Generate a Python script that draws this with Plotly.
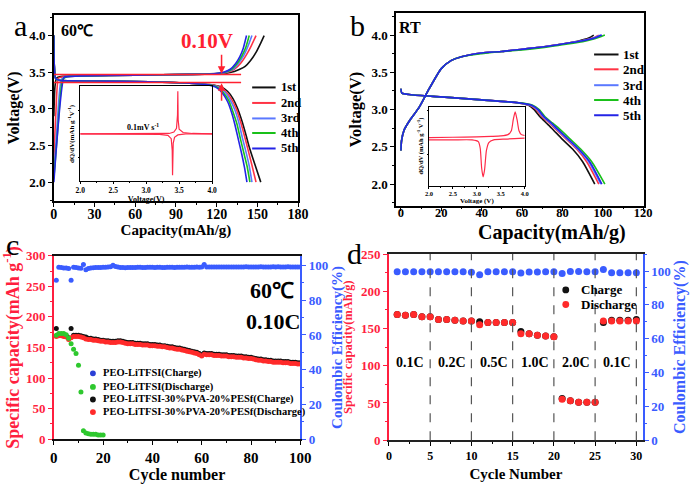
import plotly.graph_objects as go

W, H = 694, 485
SERIF = "Liberation Serif"
RED = "#ff1f3f"
BLUE = "#3a5cff"
GREEN = "#2ec82e"
INSET_RED = "#ff2a48"


def px(x):
    return x / W


def py(y):
    return 1 - y / H


# ---------------- panel a data (60 C charge/discharge) ----------------
a_labels = ["1st", "2nd", "3rd", "4th", "5th"]
a_colors = ["#111111", "#ff3344", "#5a78ff", "#19c019", "#2424e6"]
a_chg_cap = [
    [0, 0.8, 2, 5, 20, 60, 100, 120, 128, 133, 137, 141, 145, 149, 152, 155],
    [0, 1.5, 3.5, 8, 20, 60, 100, 120, 128, 133, 138, 142, 145.5, 149],
    [0, 2.5, 5.5, 9, 20, 60, 100, 120, 127, 132, 136, 140, 143, 146],
    [0, 3, 6.5, 10, 20, 60, 100, 119, 126, 131, 135, 138.5, 141.5, 144],
    [0, 7.5, 10, 20, 60, 100, 118, 125, 130, 134, 137, 139.5, 142],
]
a_chg_v = [
    [2.9, 3.3, 3.42, 3.44, 3.45, 3.46, 3.47, 3.48, 3.49, 3.51, 3.54, 3.58, 3.66, 3.77, 3.88, 4.0],
    [2.3, 2.95, 3.42, 3.44, 3.45, 3.46, 3.47, 3.48, 3.5, 3.54, 3.63, 3.74, 3.86, 4.0],
    [2.1, 2.8, 3.4, 3.44, 3.45, 3.46, 3.47, 3.48, 3.5, 3.54, 3.62, 3.73, 3.85, 4.0],
    [2.05, 2.75, 3.4, 3.44, 3.45, 3.46, 3.47, 3.48, 3.5, 3.54, 3.62, 3.72, 3.84, 4.0],
    [2.0, 3.43, 3.44, 3.45, 3.46, 3.47, 3.48, 3.5, 3.54, 3.62, 3.71, 3.82, 4.0],
]
a_dis_cap = [
    [0, 0.3, 1.2, 4, 30, 70, 100, 115, 123, 128, 132, 135.5, 138.5, 141.5, 144, 148, 152.5],
    [0, 0.3, 1.2, 4, 30, 70, 100, 114, 122, 127, 131, 134.5, 137.5, 140.5, 143, 146, 149],
    [0, 0.3, 1.2, 4, 30, 70, 100, 113, 121, 126, 130, 133.5, 136.5, 139, 141.5, 144, 146],
    [0, 0.3, 1.2, 4, 30, 70, 100, 112.5, 120, 125, 129, 132, 135, 137.5, 140, 142.5, 144.5],
    [0, 0.3, 1.2, 4, 30, 70, 100, 112, 119, 124, 128, 131, 133.5, 136, 138.5, 140.5, 142.3],
]
a_dis_v = [
    [4.0, 3.6, 3.42, 3.39, 3.38, 3.37, 3.35, 3.33, 3.3, 3.24, 3.14, 3.0, 2.84, 2.65, 2.48, 2.25, 2.0],
    [4.0, 3.6, 3.42, 3.39, 3.38, 3.37, 3.35, 3.33, 3.3, 3.23, 3.13, 3.0, 2.83, 2.63, 2.45, 2.23, 2.0],
    [4.0, 3.6, 3.42, 3.39, 3.38, 3.37, 3.35, 3.33, 3.3, 3.23, 3.12, 2.98, 2.8, 2.6, 2.42, 2.22, 2.0],
    [4.0, 3.6, 3.42, 3.39, 3.38, 3.37, 3.35, 3.33, 3.3, 3.22, 3.11, 2.96, 2.79, 2.59, 2.4, 2.21, 2.0],
    [4.0, 3.6, 3.42, 3.39, 3.38, 3.37, 3.35, 3.33, 3.3, 3.22, 3.1, 2.95, 2.78, 2.58, 2.38, 2.2, 2.0],
]
a_guide_v = [3.47, 3.36]
a_guide_cap_end = 138
a_arrow_cap = 123.6

# inset a: dQ/dV
ia_chg_v = [2.0, 3.0, 3.35, 3.42, 3.46, 3.475, 3.48, 3.485, 3.5, 3.56, 3.7, 4.0]
ia_chg_d = [0.0, 0.0, 0.01, 0.04, 0.12, 0.4, 0.9, 0.3, 0.1, 0.03, 0.01, 0.0]
ia_dis_v = [4.0, 3.6, 3.48, 3.43, 3.41, 3.405, 3.4, 3.395, 3.38, 3.33, 3.2, 2.0]
ia_dis_d = [0.0, 0.0, -0.02, -0.07, -0.2, -0.45, -0.87, -0.35, -0.1, -0.03, -0.01, 0.0]

# ---------------- panel b data (RT) ----------------
b_chg_cap = [
    [0, 0.3, 1.5, 4, 9, 14, 20, 25, 30, 40, 50, 60, 70, 80, 88, 93, 95.5],
    [0, 0.3, 1.5, 4, 9, 14, 20, 25, 30, 40, 50, 60, 70, 80, 89, 95, 98],
    [0, 0.3, 1.5, 4, 9, 14, 20, 25, 30, 40, 50, 60, 70, 80, 89, 95.5, 99],
    [0, 0.3, 1.5, 4, 9, 14, 20, 25, 30, 40, 50, 60, 70, 80, 90, 96, 101],
    [0, 0.3, 1.5, 4, 9, 14, 20, 25, 30, 40, 50, 60, 70, 80, 89.5, 96, 99.5],
]
b_chg_v = [
    [2.45, 2.58, 2.72, 2.84, 3.03, 3.28, 3.55, 3.66, 3.71, 3.76, 3.78, 3.81, 3.84, 3.88, 3.92, 3.96, 4.0],
    [2.45, 2.58, 2.72, 2.84, 3.03, 3.28, 3.55, 3.66, 3.71, 3.76, 3.78, 3.81, 3.84, 3.88, 3.92, 3.96, 4.0],
    [2.45, 2.58, 2.72, 2.84, 3.03, 3.28, 3.55, 3.66, 3.71, 3.76, 3.78, 3.81, 3.84, 3.88, 3.92, 3.96, 4.0],
    [2.45, 2.58, 2.72, 2.84, 3.03, 3.28, 3.55, 3.66, 3.71, 3.75, 3.78, 3.8, 3.83, 3.87, 3.91, 3.95, 4.0],
    [2.45, 2.58, 2.72, 2.84, 3.03, 3.28, 3.55, 3.66, 3.71, 3.76, 3.78, 3.81, 3.84, 3.88, 3.92, 3.96, 4.0],
]
b_dis_cap = [
    [0, 0.5, 5, 20, 40, 58, 63, 66, 69, 72, 75, 80, 85, 90, 96],
    [0, 0.5, 5, 20, 40, 58, 63.5, 67, 70, 73.5, 76.5, 82, 87, 92, 98],
    [0, 0.5, 5, 20, 40, 58, 64, 67.5, 70.5, 74, 77, 82.5, 87.5, 93, 99],
    [0, 0.5, 5, 20, 40, 59, 65, 68.5, 71.5, 75, 78.5, 84, 89, 94.5, 101],
    [0, 0.5, 5, 20, 40, 58.5, 64.5, 68, 71, 74.5, 77.5, 83, 88, 93.5, 99.5],
]
b_dis_v = [3.28, 3.22, 3.2, 3.17, 3.13, 3.09, 3.06, 3.0, 2.9, 2.82, 2.74, 2.6, 2.47, 2.3, 2.0]

# inset b: dQ/dV
ib_chg_v = [2.0, 2.5, 3.0, 3.3, 3.5, 3.65, 3.72, 3.76, 3.8, 3.84, 3.88, 3.93, 4.0]
ib_chg_d = [-0.11, -0.1, -0.09, -0.08, -0.07, -0.04, 0.05, 0.3, 0.48, 0.3, 0.05, -0.04, -0.06]
ib_dis_v = [4.0, 3.6, 3.35, 3.25, 3.2, 3.16, 3.13, 3.1, 3.07, 3.03, 2.9, 2.5, 2.0]
ib_dis_d = [-0.12, -0.14, -0.16, -0.22, -0.4, -0.85, -1.0, -0.8, -0.35, -0.2, -0.16, -0.16, -0.16]

# ---------------- panel c data (cycling) ----------------
c_cycles = list(range(1, 101))
c_charge = [181, 171, 171, 170, 169, 166, 181, 170, 170, 170,
            169, 168, 167, 165, 165, 164, 164, 163, 162, 162,
            161, 161, 160, 160, 160, 161, 161, 160, 159, 158,
            158, 158, 157, 157, 157, 156, 156, 156, 155, 155,
            155, 154, 154, 153, 153, 152, 151, 151, 150, 149,
            149, 148, 147, 146, 145, 144, 143, 142, 140, 138,
            141, 140, 140, 140, 139, 139, 139, 138, 138, 138,
            137, 137, 137, 136, 136, 136, 135, 135, 134, 134,
            133, 132, 131, 131, 130, 130, 129, 129, 128, 128,
            128, 128, 127, 127, 127, 126, 126, 126, 125, 125]
c_discharge = [168, 169, 169, 168, 167, 163, 166, 168, 168, 168,
               167, 166, 164, 163, 163, 162, 162, 161, 160, 160,
               159, 159, 158, 158, 158, 159, 159, 158, 157, 156,
               156, 156, 155, 155, 155, 154, 154, 154, 153, 153,
               153, 152, 152, 151, 151, 150, 149, 149, 148, 147,
               147, 146, 145, 144, 143, 142, 141, 140, 138, 136,
               139, 138, 138, 138, 137, 137, 137, 136, 136, 136,
               135, 135, 135, 134, 134, 134, 133, 133, 132, 132,
               131, 130, 129, 129, 128, 128, 127, 127, 126, 126,
               126, 126, 125, 125, 125, 124, 124, 124, 123, 123]
c_ce = [91.5, 99.0, 98.8, 98.6, 98.5, 98.3, 91.5, 99.0, 98.8, 98.6,
        98.4, 100.6, 97.6, 98.2, 98.5, 98.7, 98.8, 98.9, 98.9, 99.0,
        99.0, 99.1, 99.3, 100.2, 99.4, 99.1, 98.9, 98.8, 98.7, 98.8,
        98.9, 98.9, 98.9, 99.0, 99.0, 98.9, 98.9, 99.0, 99.0, 99.0,
        98.9, 99.0, 99.0, 98.9, 98.9, 99.0, 99.0, 99.0, 98.9, 99.0,
        99.0, 99.0, 99.0, 99.1, 99.0, 99.0, 99.0, 99.1, 99.0, 99.1,
        100.6, 99.2, 99.1, 99.1, 99.2, 99.2, 99.1, 99.1, 99.2, 99.2,
        99.2, 99.2, 99.1, 99.1, 99.2, 99.2, 99.2, 99.3, 99.2, 99.2,
        99.2, 99.2, 99.2, 99.3, 99.2, 99.2, 99.2, 99.2, 99.3, 99.2,
        99.3, 99.2, 99.2, 99.2, 99.3, 99.2, 99.2, 99.2, 99.2, 99.2]
c_peo_cycles = list(range(1, 21))
c_peo_discharge = [170, 173, 173, 173, 171, 165, 156, 147, 140, 121,
                   77, 14, 10, 9, 8, 8, 8, 7, 7, 7]
c_legend = ["PEO-LiTFSI(Charge)", "PEO-LiTFSI(Discharge)",
            "PEO-LiTFSI-30%PVA-20%PESf(Charge)", "PEO-LiTFSI-30%PVA-20%PESf(Discharge)"]
c_legend_colors = ["#2b3fd6", GREEN, "#111111", "#ff2a2a"]

# ---------------- panel d data (rate) ----------------
d_cycles = list(range(1, 31))
d_charge = [169, 168, 169, 166, 166, 162, 162, 161, 160, 160,
            159, 158, 158, 158, 158, 146, 143, 141, 140, 139,
            56, 53, 51, 51, 51, 158, 161, 161, 161, 162]
d_discharge = [169, 168, 169, 166, 166, 162, 162, 161, 160, 160,
               155, 158, 158, 158, 158, 143, 143, 141, 140, 139,
               55, 53, 51, 51, 51, 160, 160, 160, 160, 160]
d_ce = [99.5, 99.5, 99.5, 99.5, 99.5, 99.5, 99.5, 99.6, 99.5, 99.3,
        97.8, 99.5, 99.5, 99.5, 99.5, 98.8, 99.4, 99.4, 99.5, 99.5,
        98.6, 99.7, 99.7, 99.6, 99.6, 100.9, 99.0, 99.0, 99.0, 99.0]
d_boundaries = [5, 10, 15, 20, 25, 30]
d_rate_labels = ["0.1C", "0.2C", "0.5C", "1.0C", "2.0C", "0.1C"]
d_rate_x = [2.6, 7.7, 12.8, 17.7, 22.7, 27.7]
d_rate_y = 104

# ---------------- figure ----------------
fig = go.Figure()

for i in range(5):
    fig.add_trace(go.Scatter(x=a_chg_cap[i], y=a_chg_v[i], mode="lines",
                             line=dict(color=a_colors[i], width=1.6, shape="spline", smoothing=0.5),
                             xaxis="x", yaxis="y", showlegend=False, name=a_labels[i]))
    fig.add_trace(go.Scatter(x=a_dis_cap[i], y=a_dis_v[i], mode="lines",
                             line=dict(color=a_colors[i], width=1.6, shape="spline", smoothing=0.5),
                             xaxis="x", yaxis="y", showlegend=False, name=a_labels[i]))

fig.add_trace(go.Scatter(x=ia_chg_v, y=ia_chg_d, mode="lines", line=dict(color=INSET_RED, width=1.2),
                         xaxis="x2", yaxis="y2", showlegend=False))
fig.add_trace(go.Scatter(x=ia_dis_v, y=ia_dis_d, mode="lines", line=dict(color=INSET_RED, width=1.2),
                         xaxis="x2", yaxis="y2", showlegend=False))

for i in range(5):
    fig.add_trace(go.Scatter(x=b_chg_cap[i], y=b_chg_v[i], mode="lines",
                             line=dict(color=a_colors[i], width=1.6, shape="spline", smoothing=0.6),
                             xaxis="x3", yaxis="y3", showlegend=False, name=a_labels[i]))
    fig.add_trace(go.Scatter(x=b_dis_cap[i], y=b_dis_v, mode="lines",
                             line=dict(color=a_colors[i], width=1.6, shape="spline", smoothing=0.6),
                             xaxis="x3", yaxis="y3", showlegend=False, name=a_labels[i]))

fig.add_trace(go.Scatter(x=ib_chg_v, y=ib_chg_d, mode="lines",
                         line=dict(color=INSET_RED, width=1.2, shape="spline", smoothing=0.6),
                         xaxis="x4", yaxis="y4", showlegend=False))
fig.add_trace(go.Scatter(x=ib_dis_v, y=ib_dis_d, mode="lines",
                         line=dict(color=INSET_RED, width=1.2, shape="spline", smoothing=0.6),
                         xaxis="x4", yaxis="y4", showlegend=False))

# panel c
fig.add_trace(go.Scatter(x=c_cycles, y=c_charge, mode="markers",
                         marker=dict(color="#111111", size=5), xaxis="x5", yaxis="y5",
                         showlegend=False, name=c_legend[2]))
fig.add_trace(go.Scatter(x=c_cycles, y=c_discharge, mode="markers",
                         marker=dict(color="#ff2a2a", size=5), xaxis="x5", yaxis="y5",
                         showlegend=False, name=c_legend[3]))
fig.add_trace(go.Scatter(x=c_peo_cycles, y=c_peo_discharge, mode="markers",
                         marker=dict(color=GREEN, size=5), xaxis="x5", yaxis="y5",
                         showlegend=False, name=c_legend[1]))
fig.add_trace(go.Scatter(x=c_cycles, y=c_ce, mode="markers",
                         marker=dict(color=BLUE, size=5), xaxis="x5", yaxis="y6",
                         showlegend=False, name="Coulombic efficiency"))

# panel d
fig.add_trace(go.Scatter(x=d_cycles, y=d_charge, mode="markers",
                         marker=dict(color="#111111", size=7), xaxis="x6", yaxis="y7",
                         showlegend=False, name="Charge"))
fig.add_trace(go.Scatter(x=d_cycles, y=d_discharge, mode="markers",
                         marker=dict(color="#ff2a2a", size=7), xaxis="x6", yaxis="y7",
                         showlegend=False, name="Discharge"))
fig.add_trace(go.Scatter(x=d_cycles, y=d_ce, mode="markers",
                         marker=dict(color=BLUE, size=7), xaxis="x6", yaxis="y8",
                         showlegend=False, name="Coulombic efficiency"))


def font(size, color="black", bold=True, family=SERIF):
    return dict(family=family, size=size, color=color, weight="bold" if bold else "normal")


def axis(domain, rng, dtick, mdtick, anchor, title="", tsize=16, ksize=13, color="black",
         mirror=True, standoff=None, ticklen=4, lw=1.5, **kw):
    d = dict(domain=domain, range=rng, dtick=dtick, anchor=anchor,
             showgrid=False, zeroline=False, showline=True, linecolor=color, linewidth=lw,
             mirror=mirror, ticks="outside", ticklen=ticklen, tickwidth=1.2, tickcolor=color,
             tickfont=font(ksize, color),
             minor=dict(ticks="outside", ticklen=max(ticklen - 2, 1), tickcolor=color, dtick=mdtick),
             title=dict(text=title, font=font(tsize, color)))
    if standoff is not None:
        d["title"]["standoff"] = standoff
    d.update(kw)
    return d


layout = dict(
    width=W, height=H, margin=dict(l=0, r=0, t=0, b=0),
    paper_bgcolor="white", plot_bgcolor="rgba(0,0,0,0)", showlegend=False,
    # panel a
    xaxis=axis([px(50), px(300)], [0, 180], 30, 15, "y", "Capacity(mAh/g)", 15, 14, standoff=2,
               ticklabelstandoff=-4),
    yaxis=axis([py(200), py(8.3)], [1.745, 4.28], 0.5, 0.25, "x", "Voltage(V)", 16, 13,
               tickformat=".1f", standoff=6),
    # inset a
    xaxis2=axis([px(77), px(212)], [2.0, 4.0], 0.5, 0.25, "y2", "Voltage(V)", 8, 7.5,
                ticklen=2, lw=1, standoff=1, tickformat=".1f"),
    yaxis2=axis([py(180), py(82)], [-1.0, 1.0], 1, 0.5, "x2", "dQ/dV(mAh g<sup>-1</sup>V<sup>-1</sup>)",
                7, 7, ticklen=0, lw=1, showticklabels=False, ticks="", standoff=3),
    # panel b (x title drawn as an annotation below, as in the original it is offset to the right)
    xaxis3=axis([px(400.3), px(653.7)], [-2.4, 120.2], 20, 10, "y3", "", 21, 12.5,
                ticklabelstandoff=-9),
    yaxis3=axis([py(205), py(6.7)], [1.71, 4.29], 0.5, 0.25, "x3", "Voltage(V)", 16.5, 13,
                tickformat=".1f", standoff=6),
    # inset b
    xaxis4=axis([px(434), px(532)], [2.0, 4.0], 0.5, 0.25, "y4", "Voltage (V)", 7, 6.5,
                ticklen=2, lw=1, standoff=1, tickformat=".1f"),
    yaxis4=axis([py(184.3), py(102.7)], [-1.2, 0.6], 1, 0.5, "x4",
                "dQ/dV (mAh g<sup>-1</sup> V<sup>-1</sup>)", 6.5, 6.5, ticklen=0, lw=1,
                showticklabels=False, ticks="", standoff=3),
    # panel c
    xaxis5=axis([px(50), px(302.3)], [0, 100], 20, 10, "y5", "Cycle number", 16, 15, standoff=4),
    yaxis5=axis([py(446), py(256.7)], [0, 300], 50, 25, "x5", "Specific capacity(mAh g<sup>-1</sup>)",
                18, 13, color=RED, mirror=False, standoff=4),
    yaxis6=axis([py(446), py(256.7)], [0, 105.6], 20, 10, "x5", "Coulombic Efficiency(%)",
                15, 13, color=BLUE, mirror=False, overlaying="y5", side="right", standoff=4),
    # panel d
    xaxis6=axis([px(393), px(653)], [0, 30.8], 5, 2.5, "y7", "Cycle Number", 15, 12, standoff=6),
    yaxis7=axis([py(447), py(255)], [0, 250], 50, 25, "x6", "Specific capacity(mAh/g)",
                12.5, 13, color=RED, mirror=False, standoff=6),
    yaxis8=axis([py(447), py(255)], [0, 110], 20, 10, "x6", "Coulombic Efficiency(%)",
                16, 13, color=BLUE, mirror=False, overlaying="y7", side="right", standoff=4),
)
fig.update_layout(**layout)
# top frame lines in c and d are drawn by mirrored x axes
fig.update_layout(xaxis5=dict(linecolor="#111111"), xaxis6=dict(linecolor="#222222"))

shapes = []
annotations = []

# panel a guide lines and arrows
for v in a_guide_v:
    shapes.append(dict(type="line", xref="x", yref="y", x0=0, x1=a_guide_cap_end, y0=v, y1=v,
                       line=dict(color="#ff2030", width=1.5)))
annotations.append(dict(xref="x", yref="y", axref="x", ayref="y", x=a_arrow_cap, y=a_guide_v[0] + 0.01,
                        ax=a_arrow_cap, ay=3.76, showarrow=True, arrowhead=2, arrowsize=1,
                        arrowwidth=1.5, arrowcolor="#ff2030", text=""))
annotations.append(dict(xref="x", yref="y", axref="x", ayref="y", x=a_arrow_cap, y=a_guide_v[1] - 0.01,
                        ax=a_arrow_cap, ay=3.09, showarrow=True, arrowhead=2, arrowsize=1,
                        arrowwidth=1.5, arrowcolor="#ff2030", text=""))
annotations.append(dict(xref="x", yref="y", x=113, y=3.93, text="0.10V", showarrow=False,
                        font=font(21, "#ff2030")))
annotations.append(dict(xref="x", yref="y", x=3.5, y=4.07, xanchor="left", text="60℃",
                        showarrow=False, font=font(16)))
annotations.append(dict(xref="x2", yref="y2", x=2.95, y=0.14, text="0.1mV s<sup>-1</sup>",
                        showarrow=False, font=font(8)))
annotations.append(dict(xref="x3", yref="y3", x=-1.8, y=4.1, xanchor="left", text="RT",
                        showarrow=False, font=font(16)))
annotations.append(dict(xref="paper", yref="paper", x=px(560), y=py(233), text="Capacity(mAh/g)",
                        showarrow=False, xanchor="center", yanchor="middle", font=font(20)))

# legends of a and b
a_leg_rows = [83, 99, 115, 130, 146]
b_leg_rows = [49, 64.3, 80.7, 96, 111.7]
for i in range(5):
    shapes.append(dict(type="line", xref="paper", yref="paper", x0=px(253), x1=px(277),
                       y0=py(a_leg_rows[i]), y1=py(a_leg_rows[i]),
                       line=dict(color=a_colors[i], width=2)))
    annotations.append(dict(xref="paper", yref="paper", x=px(280), y=py(a_leg_rows[i]),
                            xanchor="left", yanchor="middle", text=a_labels[i],
                            showarrow=False, font=font(12.5)))
    shapes.append(dict(type="line", xref="paper", yref="paper", x0=px(603), x1=px(628),
                       y0=py(b_leg_rows[i]), y1=py(b_leg_rows[i]),
                       line=dict(color=a_colors[i], width=2)))
    annotations.append(dict(xref="paper", yref="paper", x=px(631), y=py(b_leg_rows[i]),
                            xanchor="left", yanchor="middle", text=a_labels[i],
                            showarrow=False, font=font(13)))

# panel c texts and legend
annotations.append(dict(xref="x5", yref="y5", x=88.6, y=243, text="60℃", showarrow=False, font=font(22)))
annotations.append(dict(xref="x5", yref="y5", x=89, y=192.6, text="0.10C", showarrow=False, font=font(22)))
c_leg_rows = [378, 392, 405, 418]
for i in range(4):
    yc = c_leg_rows[i]
    shapes.append(dict(type="circle", xref="paper", yref="paper", x0=px(87), x1=px(93),
                       y0=py(yc + 3), y1=py(yc - 3), fillcolor=c_legend_colors[i],
                       line=dict(width=0)))
    annotations.append(dict(xref="paper", yref="paper", x=px(98), y=py(yc), xanchor="left",
                            yanchor="middle", text=c_legend[i], showarrow=False, font=font(10.5)))

# panel d
for xb in d_boundaries:
    shapes.append(dict(type="line", xref="x6", yref="y7 domain", x0=xb, x1=xb, y0=0, y1=1,
                       line=dict(color="#555555", width=1.2, dash="dash")))
for lab, xl in zip(d_rate_labels, d_rate_x):
    annotations.append(dict(xref="x6", yref="y7", x=xl, y=d_rate_y, text=lab, showarrow=False,
                            font=font(14)))
d_leg = [("Charge", "#111111", 292), ("Discharge", "#ff2a2a", 307)]
for lab, col, yc in d_leg:
    shapes.append(dict(type="circle", xref="paper", yref="paper", x0=px(570.5), x1=px(577.5),
                       y0=py(yc + 3.5), y1=py(yc - 3.5), fillcolor=col, line=dict(width=0)))
    annotations.append(dict(xref="paper", yref="paper", x=px(588), y=py(yc), xanchor="left",
                            yanchor="middle", text=lab, showarrow=False, font=font(13)))

# panel letters
for letter, lx, ly, anc in [("a", 16, 0, "top"), ("b", 361, 0, "top"),
                            ("c", 8, 245, "middle"), ("d", 358, 254, "middle")]:
    annotations.append(dict(xref="paper", yref="paper", x=px(lx), y=py(ly), text=letter,
                            showarrow=False, xanchor="center", yanchor=anc,
                            font=font(30, bold=False)))

fig.update_layout(shapes=shapes, annotations=annotations)
fig.write_html("out.html", config={"displayModeBar": False},
               post_script="document.body.style.margin='0';document.body.style.overflow='hidden';")
